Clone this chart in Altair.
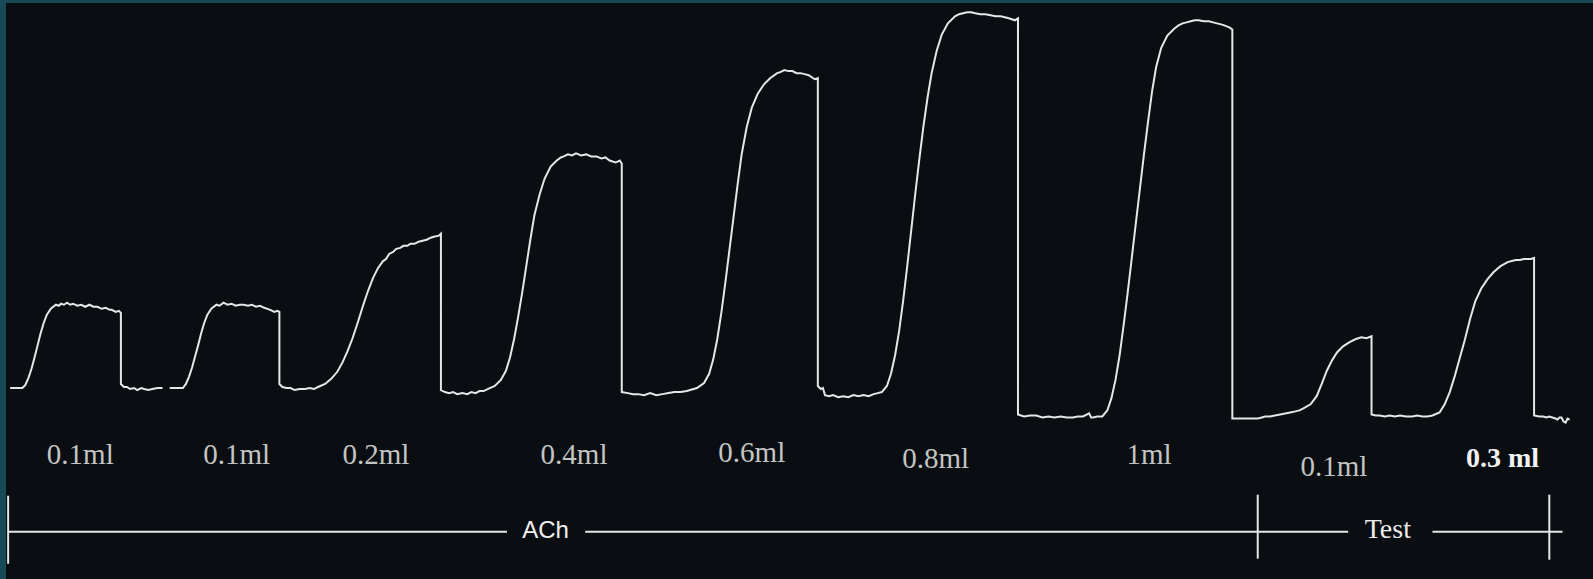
import altair as alt
import pandas as pd

# ---- trace (time in chart units, pen position: larger = lower on the drum) ----
seg_a_t = [10, 22, 25, 28, 31, 34, 37, 40, 43, 46, 50, 55, 58, 60, 63, 66, 69, 72, 76, 80, 84, 88, 92, 96, 100, 104,
           108, 110, 114, 117, 119,
           119, 122, 125, 128, 132, 135, 139, 142, 146, 150, 155, 160]
seg_a_y = [382, 382, 379, 372, 363, 352, 340, 328, 318, 310, 304, 300, 301, 299, 300, 298, 300, 299, 301, 300, 302, 300,
           302, 302, 304, 303, 305, 305, 307, 306, 308,
           378, 381, 381, 383, 382, 384, 382, 383, 384, 383, 382, 382]

seg_b_t = [167, 180, 183, 186, 189, 192, 195, 198, 201, 204, 208, 213, 216, 220, 224, 228, 232, 236, 240, 244, 248, 252,
           256, 260, 266, 270, 273, 275,
           275, 278, 282, 286, 290, 295, 300, 305, 309, 313, 320, 326, 332, 337, 342, 347, 352, 357, 362, 367, 372, 377,
           380, 383, 387, 390, 394, 397, 401, 404, 408, 412, 416, 420, 424, 427, 432, 434,
           434, 438, 442, 446, 450, 455, 460, 464, 468, 472, 476, 480, 487, 493, 498, 502, 506, 510, 514, 518, 522, 526,
           531, 536, 542, 548, 552, 555, 559, 563, 567, 572, 577, 582, 587, 592, 596, 600, 606, 610, 612,
           612, 618, 623, 628, 634, 640, 646, 652, 658, 664, 670, 676, 686, 693, 698, 702, 706, 710, 714, 718, 722, 726,
           730, 735, 740, 746, 752, 758, 765, 768, 772, 776, 780, 784, 788, 792, 796, 802, 805,
           805, 808, 810, 812, 816, 820, 825, 830, 835, 840, 845, 850, 855, 860, 864, 868, 873, 877, 881, 885, 889, 893,
           897, 901, 905, 909, 913, 917, 922, 927, 933, 940, 944, 948, 952, 956, 960, 965, 970, 975, 980, 985, 989, 993,
           999, 1002,
           1002, 1008, 1014, 1020, 1026, 1032, 1038, 1044, 1050, 1056, 1061, 1066, 1072, 1074, 1076, 1080, 1085, 1090,
           1094, 1098, 1102, 1106, 1110, 1114, 1118, 1122, 1126, 1130, 1134, 1138, 1143, 1149, 1156, 1160, 1164, 1168,
           1172, 1176, 1180, 1185, 1190, 1194, 1198, 1202, 1205, 1210, 1213,
           1213, 1225, 1238, 1242, 1245, 1250, 1255, 1260, 1265, 1270, 1275, 1279, 1283, 1290, 1296, 1301, 1306, 1311,
           1316, 1322, 1328, 1334, 1337, 1340, 1345, 1350,
           1350, 1354, 1358, 1363, 1368, 1373, 1378, 1384, 1390, 1395, 1400, 1405, 1410, 1417, 1422, 1427, 1432, 1437,
           1442, 1447, 1452, 1458, 1464, 1470, 1477, 1484, 1488, 1492, 1496, 1500, 1504, 1507, 1510,
           1510, 1515, 1519, 1522, 1525, 1528, 1531, 1533, 1535, 1537, 1539, 1541, 1543, 1545]
seg_b_y = [382, 382, 378, 371, 362, 351, 340, 328, 318, 310, 304, 300, 301, 298, 300, 299, 301, 300, 300, 301, 300, 302,
           301, 303, 305, 307, 306, 307,
           378, 381, 382, 382, 384, 383, 383, 382, 383, 381, 378, 373, 366, 357, 346, 333, 318, 302, 287, 274, 264, 257,
           255, 250, 248, 245, 244, 242, 242, 240, 240, 238, 237, 236, 234, 233, 232, 230,
           384, 386, 387, 386, 388, 387, 388, 386, 387, 385, 385, 383, 380, 374, 365, 352, 334, 312, 288, 262, 236, 212,
           192, 176, 164, 158, 155, 154, 152, 153, 151, 153, 152, 154, 154, 156, 155, 158, 160, 158, 161,
           386, 387, 388, 388, 389, 387, 389, 388, 387, 386, 386, 385, 382, 377, 368, 354, 334, 308, 278, 246, 214, 182,
           152, 125, 106, 92, 83, 77, 72, 71, 69, 70, 70, 72, 72, 73, 74, 78, 77,
           380, 383, 382, 389, 390, 389, 391, 390, 391, 389, 390, 389, 390, 388, 387, 386, 380, 368, 350, 326, 296, 262,
           226, 190, 156, 124, 96, 72, 50, 34, 23, 16, 14, 13, 12, 12, 13, 14, 14, 15, 16, 16, 17, 18, 20, 18,
           408, 410, 409, 409, 411, 410, 411, 410, 411, 411, 410, 410, 407, 411, 411, 410, 410, 404,
           392, 374, 350, 320, 288, 254, 220, 186, 152, 120, 90, 66, 47, 35, 28, 25, 23, 22, 21, 20, 20, 21, 21, 22, 23,
           24, 25, 27, 29,
           412, 412, 412, 411, 410, 410, 409, 408, 407, 406, 405, 404, 402, 398, 390, 378, 365, 355, 347, 341, 337, 334,
           333, 332, 333, 331,
           408, 409, 409, 410, 409, 410, 409, 410, 410, 409, 410, 410, 409, 406, 398, 386, 370, 352, 334, 314, 297, 284,
           275, 268, 262, 258, 257, 256, 256, 255, 255, 255, 254,
           409, 410, 410, 411, 410, 411, 412, 413, 411, 411, 415, 416, 412, 413]

# ---- dose labels ----
dose_labels = ["0.1ml", "0.1ml", "0.2ml", "0.4ml", "0.6ml", "0.8ml", "1ml", "0.1ml"]
dose_t = [79, 233, 370, 565, 740, 921, 1131, 1313]
dose_y = [457, 457, 457, 457, 455, 461, 457, 469]
test_label = ["0.3 ml"]
test_label_t = [1479]
test_label_y = [460]

# ---- period brackets ----
period_names = ["ACh", "Test"]
period_name_t = [537, 1366]
period_name_y = [530, 530]
bracket_line_y = 523.5
bracket_t1 = [8, 576, 1238, 1410]
bracket_t2 = [499, 1238, 1327, 1538]
tick_t = [8, 1238, 1525]
tick_y1 = [488, 487, 487]
tick_y2 = [555, 550, 551]

X_DOM = [0, 1568]
Y_DOM = [0, 570]
LINE = "#e6e6e6"


def xs(field):
    return alt.X(field, type="quantitative", scale=alt.Scale(domain=X_DOM, nice=False, zero=False), axis=None)


def ys(field):
    return alt.Y(field, type="quantitative", scale=alt.Scale(domain=Y_DOM, nice=False, zero=False, reverse=True), axis=None)


trace_df = pd.DataFrame({
    "t": seg_a_t + seg_b_t,
    "pen": seg_a_y + seg_b_y,
    "seg": ["a"] * len(seg_a_t) + ["b"] * len(seg_b_t),
    "i": list(range(len(seg_a_t))) + list(range(len(seg_b_t))),
})

trace = alt.Chart(trace_df).mark_line(color=LINE, strokeWidth=2, strokeJoin="miter").encode(
    x=xs("t"), y=ys("pen"), detail="seg:N", order="i:Q"
)

# teal frame strips (top & left)
frame_top = alt.Chart(pd.DataFrame({"k": [0]})).mark_rect(color="#184a56").encode(
    x=alt.value(0), x2=alt.value(1593), y=alt.value(0), y2=alt.value(3)
)
frame_left = alt.Chart(pd.DataFrame({"k": [0]})).mark_rect(color="#184a56").encode(
    x=alt.value(0), x2=alt.value(6), y=alt.value(0), y2=alt.value(579)
)

dose_df = pd.DataFrame({"t": dose_t, "y": dose_y, "label": dose_labels})
dose_text = alt.Chart(dose_df).mark_text(
    font="Liberation Serif", fontSize=29, color="#c4c4c4", align="center", baseline="alphabetic"
).encode(x=xs("t"), y=ys("y"), text="label:N")

test_df = pd.DataFrame({"t": test_label_t, "y": test_label_y, "label": test_label})
test_text = alt.Chart(test_df).mark_text(
    font="Liberation Serif", fontSize=28, fontWeight="bold", color="#f2f2f2", align="center", baseline="alphabetic"
).encode(x=xs("t"), y=ys("y"), text="label:N")

br_df = pd.DataFrame({"t1": bracket_t1, "t2": bracket_t2, "y": [bracket_line_y] * len(bracket_t1)})
br_lines = alt.Chart(br_df).mark_rule(color=LINE, strokeWidth=2).encode(
    x=xs("t1"), x2="t2", y=ys("y")
)

tick_df = pd.DataFrame({"t": tick_t, "y1": tick_y1, "y2": tick_y2})
ticks = alt.Chart(tick_df).mark_rule(color=LINE, strokeWidth=2).encode(
    x=xs("t"), y=ys("y1"), y2="y2"
)

ach_df = pd.DataFrame({"t": period_name_t[:1], "y": period_name_y[:1], "label": period_names[:1]})
ach_text = alt.Chart(ach_df).mark_text(
    font="Liberation Sans", fontSize=24, color="#f0f0f0", align="center", baseline="alphabetic"
).encode(x=xs("t"), y=ys("y"), text="label:N")

tst_df = pd.DataFrame({"t": period_name_t[1:], "y": period_name_y[1:], "label": period_names[1:]})
tst_text = alt.Chart(tst_df).mark_text(
    font="Liberation Serif", fontSize=28, color="#ececec", align="center", baseline="alphabetic"
).encode(x=xs("t"), y=ys("y"), text="label:N")

chart = alt.layer(
    frame_top, frame_left, trace, dose_text, test_text, br_lines, ticks, ach_text, tst_text
).properties(
    width=1593, height=579, padding=0, background="#0a0d11",
    autosize=alt.AutoSizeParams(type="fit", contains="padding"),
).configure_view(stroke=None)

chart.save("out.html", embed_options={"renderer": "svg", "actions": False})
